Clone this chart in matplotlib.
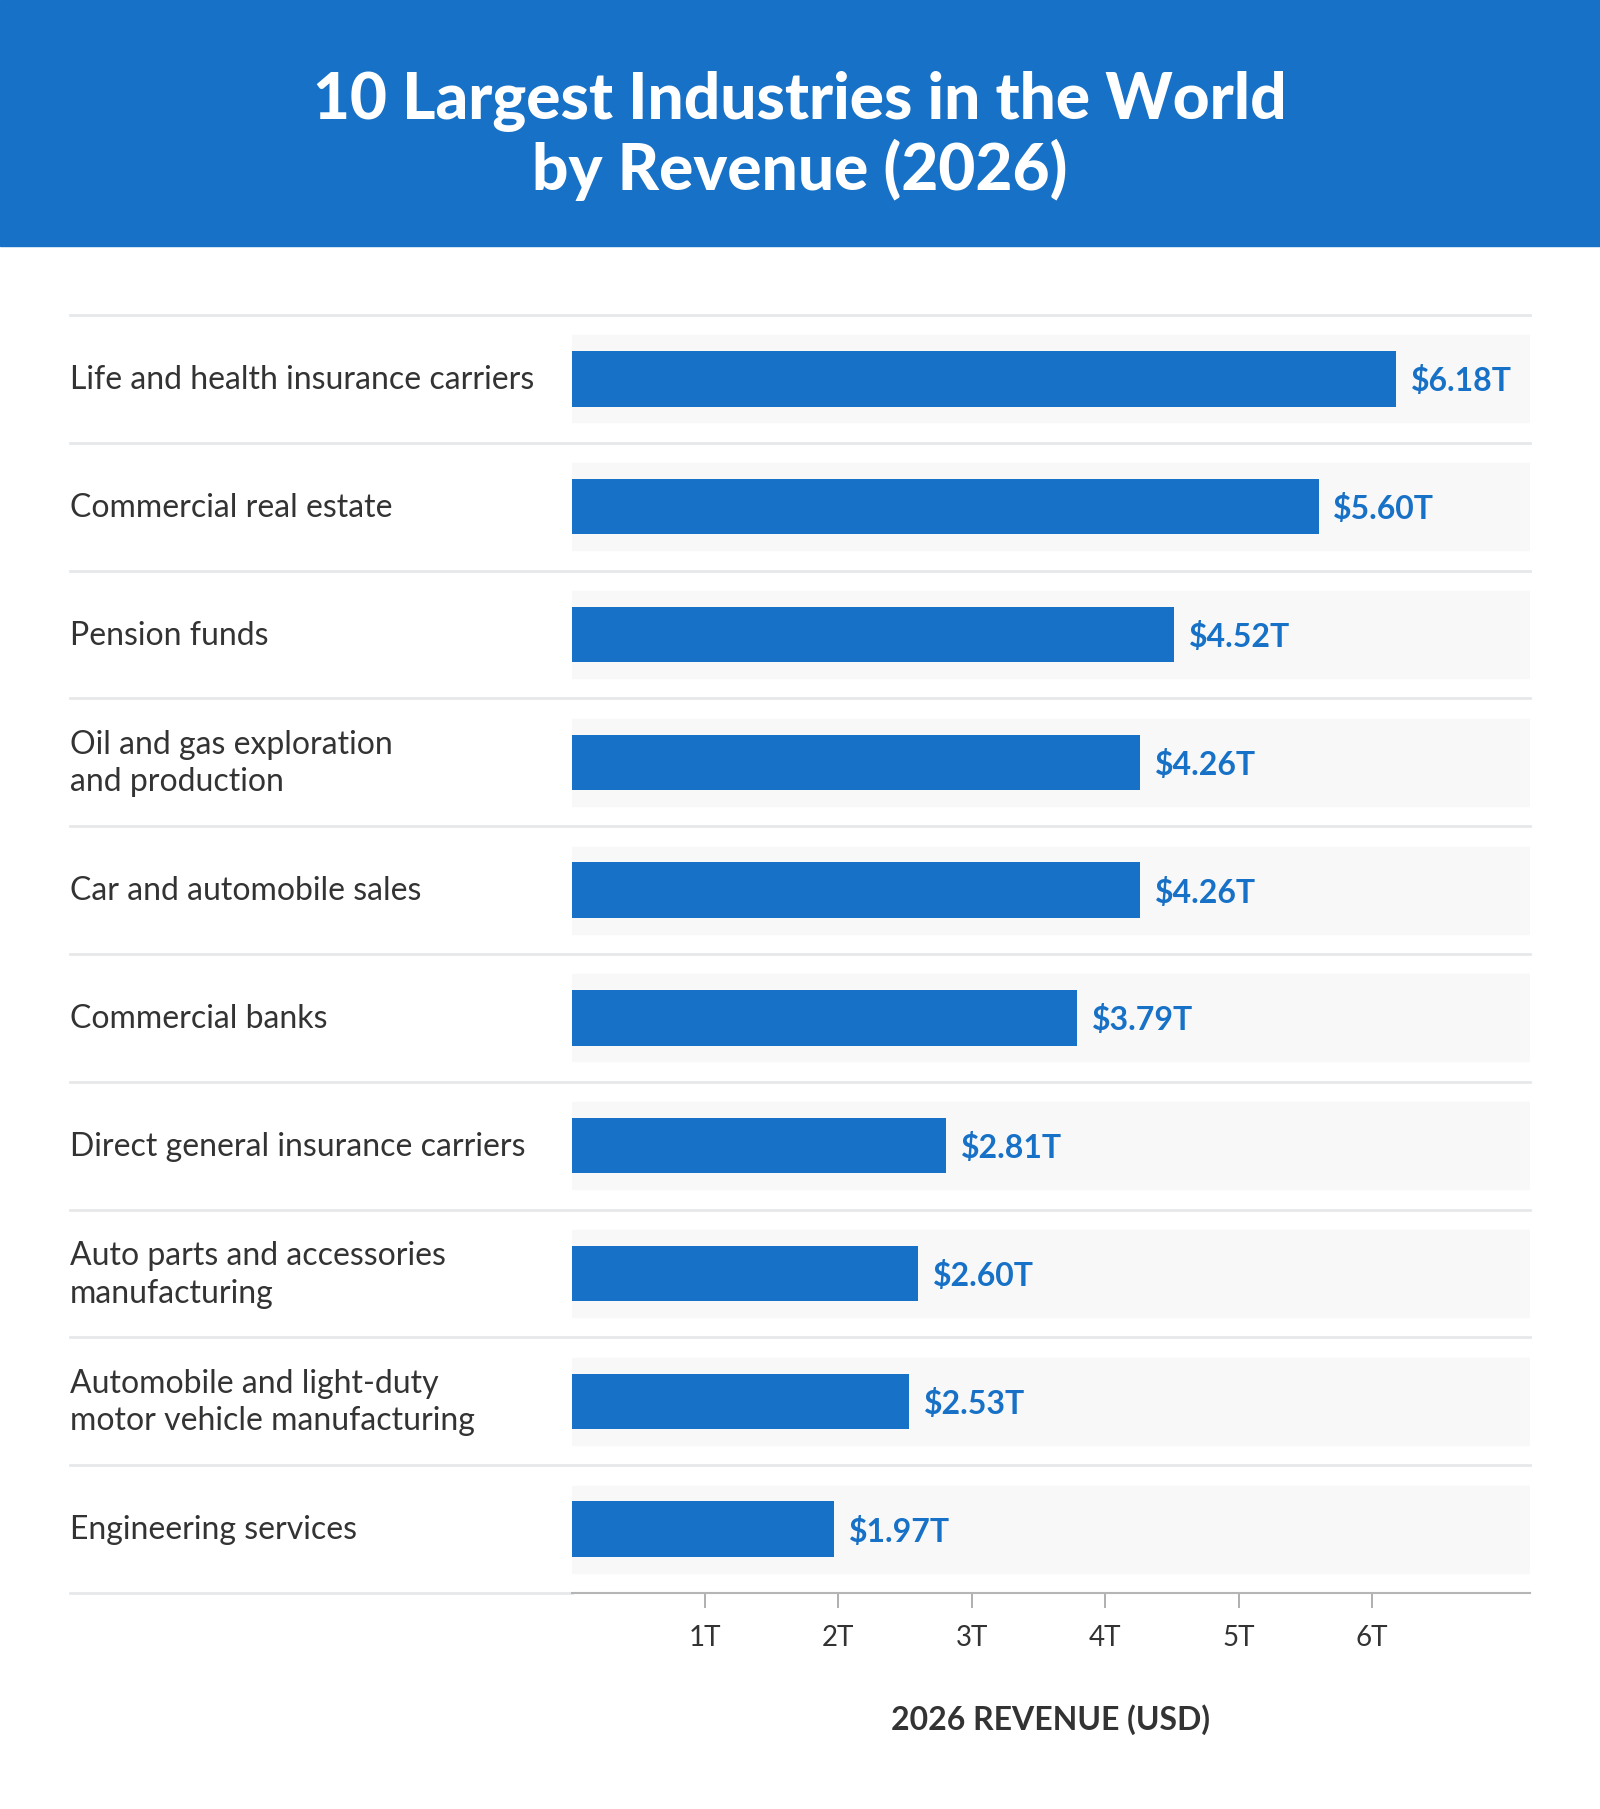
import matplotlib.pyplot as plt
from matplotlib.patches import Rectangle

plt.rcParams['font.family'] = ['Lato', 'DejaVu Sans']

# data
industries = [
    "Life and health insurance carriers",
    "Commercial real estate",
    "Pension funds",
    "Oil and gas exploration\nand production",
    "Car and automobile sales",
    "Commercial banks",
    "Direct general insurance carriers",
    "Auto parts and accessories\nmanufacturing",
    "Automobile and light-duty\nmotor vehicle manufacturing",
    "Engineering services",
]
revenue = [6.18, 5.60, 4.52, 4.26, 4.26, 3.79, 2.81, 2.60, 2.53, 1.97]
value_labels = ["$6.18T", "$5.60T", "$4.52T", "$4.26T", "$4.26T",
                "$3.79T", "$2.81T", "$2.60T", "$2.53T", "$1.97T"]
tick_values = [1, 2, 3, 4, 5, 6]
tick_labels = ["1T", "2T", "3T", "4T", "5T", "6T"]

blue = "#1771c6"
text_dark = "#333333"

W, H = 1600, 1809
fig = plt.figure(figsize=(W / 100, H / 100), dpi=100)
fig.patch.set_facecolor("white")

# header band
fig.patches.append(Rectangle((0, 1 - 246 / H), 1, 246 / H, transform=fig.transFigure,
                             color=blue, zorder=0))
fig.text(0.5, 1 - 136 / H, "10 Largest Industries in the World\nby Revenue (2026)",
         ha="center", va="center", color="white", fontsize=46, fontweight="black",
         linespacing=1.12)

# axes
ax_left, ax_right = 571.5, 1530
ax_top, ax_bot = 315, 1593
ax = fig.add_axes([ax_left / W, 1 - ax_bot / H, (ax_right - ax_left) / W, (ax_bot - ax_top) / H])
n = len(industries)
ax.set_ylim(n - 0.5, -0.5)
ax.set_xlim(0, (ax_right - ax_left) / 133.4)

label_x = (70 - ax_left) / (ax_right - ax_left)
ytrans = ax.get_yaxis_transform()

for i, (name, val, lab) in enumerate(zip(industries, revenue, value_labels)):
    ax.axhspan(i - 0.34, i + 0.34, color="#f8f8f8", zorder=0)
    ax.barh(i, val, height=0.435, color=blue, zorder=2)
    ax.text(val + 0.11, i + 0.02, lab, va="center", ha="left", color=blue,
            fontsize=23, fontweight="bold", zorder=3)
    ax.text(label_x, i + 0.01, name, transform=ytrans, va="center", ha="left",
            color=text_dark, fontsize=23, linespacing=1.32)

# row separators
for k in range(n):
    ax.plot([label_x, 1], [k - 0.5, k - 0.5], transform=ytrans, color="#e6e8e9",
            lw=2, clip_on=False, zorder=1)
ax.plot([label_x, 0], [n - 0.5, n - 0.5], transform=ytrans, color="#e6e8e9",
        lw=2, clip_on=False, zorder=1)

for s in ["top", "right", "left"]:
    ax.spines[s].set_visible(False)
ax.spines["bottom"].set_color("#b5b5b5")
ax.spines["bottom"].set_linewidth(1.5)
ax.set_yticks([])
ax.set_xticks(tick_values)
ax.set_xticklabels(tick_labels)
ax.tick_params(axis="x", length=11, width=1.1, color="#9a9a9a", pad=12,
               labelsize=20, labelcolor=text_dark)
ax.set_facecolor("white")

fig.text((ax_left + ax_right) / 2 / W, 1 - 1720 / H, "2026 REVENUE (USD)",
         ha="center", va="center", color=text_dark, fontsize=23, fontweight="bold")

fig.savefig("out.png", dpi=100)
